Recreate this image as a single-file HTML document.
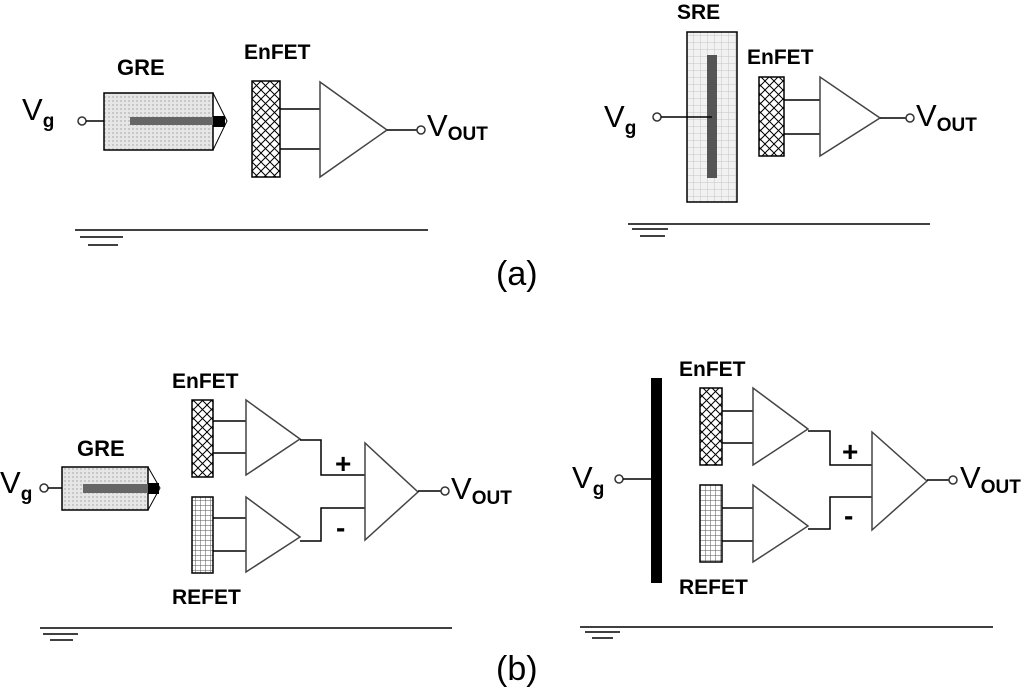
<!DOCTYPE html>
<html><head><meta charset="utf-8"><style>html,body{margin:0;padding:0;background:#fff}svg{display:block}</style></head><body>
<svg width="1024" height="689" viewBox="0 0 1024 689" xmlns="http://www.w3.org/2000/svg" font-family="Liberation Sans, sans-serif">
<defs>
<pattern id="cross" width="9" height="9" patternUnits="userSpaceOnUse"><rect width="9" height="9" fill="#fff"/><path d="M0 0L9 9M9 0L0 9" stroke="#000" stroke-width="1"/></pattern>
<pattern id="grid" width="5" height="5" patternUnits="userSpaceOnUse"><rect width="5" height="5" fill="#fff"/><path d="M0 0H5M0 0V5" stroke="#555" stroke-width="1"/></pattern>
<pattern id="dots" width="4" height="4" patternUnits="userSpaceOnUse"><rect width="4" height="4" fill="#e6e6e6"/><rect width="2" height="2" fill="#c8c8c8"/></pattern>
<pattern id="lgrid" width="7" height="7" patternUnits="userSpaceOnUse"><rect width="7" height="7" fill="#f2f2f2"/><path d="M0 0H7M0 0V7" stroke="#c4c4c4" stroke-width="1"/></pattern>
</defs>
<g stroke="#000" stroke-width="1.5" fill="none">
<!-- a-left -->
<circle cx="82" cy="121" r="4" fill="#fff" stroke="#333"/>
<path d="M86 121H130"/>
<rect x="104" y="93" width="109" height="57" fill="url(#dots)"/>
<path d="M213 93L227 121L213 150" stroke-width="1"/>
<rect x="130" y="117" width="83" height="8" fill="#666" stroke="none"/>
<rect x="213" y="116" width="12" height="11" fill="#000" stroke="none"/>
<rect x="252" y="81" width="28" height="96" fill="url(#cross)"/>
<path d="M280 109H320M280 149H320"/>
<path d="M320 82V177L387 130Z" fill="#fff" stroke="#444"/>
<path d="M387 130H417"/>
<circle cx="421" cy="130" r="4" fill="#fff" stroke="#333"/>
<path d="M75 230H428M80 237H123M88 245H118"/>
<!-- a-right -->
<rect x="687" y="32" width="50" height="170" fill="url(#lgrid)"/>
<rect x="707" y="55" width="10" height="123" fill="#555" stroke="none"/>
<circle cx="657" cy="117" r="4" fill="#fff" stroke="#333"/>
<path d="M661 117H712"/>
<rect x="759" y="77" width="25" height="79" fill="url(#cross)"/>
<path d="M784 100H820M784 134H820"/>
<path d="M820 77V156L880 118Z" fill="#fff" stroke="#444"/>
<path d="M880 118H906"/>
<circle cx="910" cy="118" r="4" fill="#fff" stroke="#333"/>
<path d="M628 224H930M632 229H668M640 236H665"/>
<!-- b-left -->
<circle cx="44" cy="488" r="4" fill="#fff" stroke="#333"/>
<path d="M48 488H83"/>
<rect x="62" y="467" width="86" height="43" fill="url(#dots)"/>
<path d="M148 467L160 488L148 510" stroke-width="1"/>
<rect x="83" y="484" width="65" height="9" fill="#666" stroke="none"/>
<rect x="148" y="483" width="11" height="11" fill="#000" stroke="none"/>
<rect x="192" y="400" width="21" height="77" fill="url(#cross)"/>
<path d="M213 421H246M213 453H246"/>
<path d="M246 400V475L300 439Z" fill="#fff" stroke="#444"/>
<rect x="192" y="497" width="21" height="76" fill="url(#grid)"/>
<path d="M213 518H246M213 551H246"/>
<path d="M246 497V572L300 537Z" fill="#fff" stroke="#444"/>
<path d="M300 440H321V475H365M300 541H321V508H365"/>
<path d="M365 443V540L418 492Z" fill="#fff" stroke="#444"/>
<path d="M418 491H441"/>
<circle cx="445" cy="491" r="4" fill="#fff" stroke="#333"/>
<path d="M40 628H452M43 634H78M50 640H73"/>
<!-- b-right -->
<circle cx="619" cy="479" r="4" fill="#fff" stroke="#333"/>
<path d="M623 479H651"/>
<rect x="651" y="378" width="11" height="205" fill="#000" stroke="none"/>
<rect x="700" y="388" width="22" height="77" fill="url(#cross)"/>
<path d="M722 411H753M722 443H753"/>
<path d="M753 388V465L808 429Z" fill="#fff" stroke="#444"/>
<rect x="700" y="485" width="22" height="77" fill="url(#grid)"/>
<path d="M722 508H753M722 541H753"/>
<path d="M753 485V562L808 526Z" fill="#fff" stroke="#444"/>
<path d="M808 431H830V465H872M808 529H830V497H872"/>
<path d="M872 432V530L927 481Z" fill="#fff" stroke="#444"/>
<path d="M927 480H949"/>
<circle cx="953" cy="480" r="4" fill="#fff" stroke="#333"/>
<path d="M580 627H993M585 632H620M592 638H613"/>
</g>
<g fill="#000">
<text x="22" y="120" font-size="31">V<tspan font-size="19" font-weight="bold" dy="7">g</tspan></text>
<text x="117" y="75" font-size="22" font-weight="bold">GRE</text>
<text x="244" y="59" font-size="21" font-weight="bold">EnFET</text>
<text x="427" y="136" font-size="31">V<tspan font-size="19" font-weight="bold" dy="4">OUT</tspan></text>
<text x="496" y="285" font-size="34">(a)</text>
<text x="677" y="19" font-size="21" font-weight="bold">SRE</text>
<text x="747" y="64" font-size="21" font-weight="bold">EnFET</text>
<text x="604" y="127" font-size="31">V<tspan font-size="19" font-weight="bold" dy="7">g</tspan></text>
<text x="916" y="126" font-size="31">V<tspan font-size="19" font-weight="bold" dy="5">OUT</tspan></text>
<text x="0" y="493" font-size="31">V<tspan font-size="19" font-weight="bold" dy="7">g</tspan></text>
<text x="77" y="456" font-size="22" font-weight="bold">GRE</text>
<text x="172" y="388" font-size="21" font-weight="bold">EnFET</text>
<text x="172" y="604" font-size="21" font-weight="bold">REFET</text>
<text x="335" y="473" font-size="28" font-weight="bold">+</text>
<text x="336" y="537" font-size="28" font-weight="bold">-</text>
<text x="451" y="499" font-size="31">V<tspan font-size="19" font-weight="bold" dy="5">OUT</tspan></text>
<text x="496" y="680" font-size="34">(b)</text>
<text x="572" y="488" font-size="31">V<tspan font-size="19" font-weight="bold" dy="7">g</tspan></text>
<text x="679" y="376" font-size="21" font-weight="bold">EnFET</text>
<text x="679" y="594" font-size="21" font-weight="bold">REFET</text>
<text x="842" y="461" font-size="28" font-weight="bold">+</text>
<text x="844" y="525" font-size="28" font-weight="bold">-</text>
<text x="960" y="488" font-size="31">V<tspan font-size="19" font-weight="bold" dy="5">OUT</tspan></text>
</g>
</svg>
</body></html>
